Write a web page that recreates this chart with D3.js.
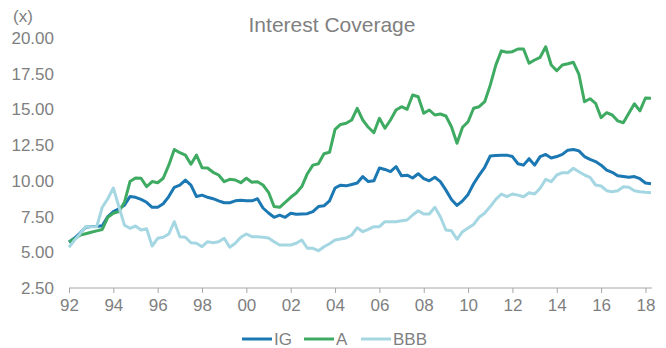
<!DOCTYPE html>
<html lang="en">
<head>
  <meta charset="UTF-8">
  <title>Interest Coverage</title>
  <style>
    html, body { margin: 0; background: #fff; }
    svg { display: block; font-family: "Liberation Sans", Arial, sans-serif; }
    .axis text { fill: #7f7f7f; font-size: 17px; }
  </style>
</head>
<body>
  <div id="chart"></div>
  <script src="https://cdnjs.cloudflare.com/ajax/libs/d3/7.8.5/d3.min.js"></script>
  <script>
    // quarterly, 1992 Q1 .. 2018 Q2
    const startYear = 1992
    const quarters = 106

    const ig = [
      5.7, 6.0, 6.35, 6.75,   6.8, 6.8, 6.85, 7.5,   7.85, 8.05, 8.3, 8.9,
      8.85, 8.7, 8.5, 8.15,   8.15, 8.4, 8.9, 9.55,  9.7, 10.05, 9.7, 8.9,
      9.0, 8.85, 8.75, 8.6,   8.47, 8.47, 8.6, 8.65, 8.6, 8.6, 8.75, 8.1,
      7.75, 7.45, 7.6, 7.45,  7.73, 7.66, 7.68, 7.7, 7.85, 8.2, 8.25, 8.6,
      9.5, 9.7, 9.65, 9.75,   9.85, 10.3, 9.95, 10.0, 10.9, 10.8, 10.65, 11.0,
      10.35, 10.4, 10.2, 10.5, 10.15, 10.0, 10.25, 9.95, 9.35, 8.7, 8.28, 8.6,
      9.05, 9.8, 10.4, 10.95, 11.74, 11.78, 11.8, 11.8, 11.7, 11.2, 11.1, 11.55,
      11.1, 11.7, 11.85, 11.6, 11.7, 11.85, 12.15, 12.2, 12.1, 11.7, 11.5, 11.35,
      11.1, 10.75, 10.6, 10.35, 10.3, 10.25, 10.3, 10.15, 9.85, 9.8
    ]
    const a = [
      5.74, 5.95, 6.2, 6.3,   6.4, 6.5, 6.6, 7.45,   7.73, 7.85, 8.5, 9.95,
      10.2, 10.18, 9.6, 9.95, 9.87, 10.18, 11.1, 12.2, 11.97, 11.8, 11.16, 11.8,
      10.92, 10.9, 10.6, 10.41, 9.94, 10.11, 10.06, 9.87, 10.18, 9.9, 9.94, 9.71,
      9.2, 8.2, 8.15, 8.5,    8.85, 9.15, 9.6, 10.5,  11.1, 11.2, 11.9, 12.0,
      13.6, 13.95, 14.03, 14.26, 15.08, 14.26, 13.75, 13.37, 14.38, 13.68, 14.26, 14.96,
      15.19, 15.01, 16.01, 15.89, 14.73, 14.96, 14.61, 14.68, 14.54, 13.79, 12.63, 13.75,
      14.14, 15.08, 15.19, 15.54, 16.7, 18.1, 19.1, 19.0, 19.04, 19.23, 19.23, 18.23,
      18.46, 18.65, 19.39, 18.11, 17.71, 18.11, 18.2, 18.3, 17.45, 15.54, 15.75, 15.43,
      14.42, 14.77, 14.61, 14.2, 14.07, 14.73, 15.4, 14.9, 15.8, 15.78
    ]
    const bbb = [
      5.35, 5.85, 6.3, 6.8,   6.79, 6.79, 8.15, 8.75, 9.5, 8.2, 6.9, 6.68,
      6.84, 6.56, 6.65, 5.44, 5.98, 6.05, 6.28, 7.14, 6.09, 6.05, 5.67, 5.63,
      5.39, 5.74, 5.67, 5.74, 5.98, 5.35, 5.63, 6.05, 6.28, 6.09, 6.09, 6.05,
      6.0, 5.74, 5.51, 5.51,  5.51, 5.63, 5.86, 5.28, 5.28, 5.11, 5.39, 5.6,
      5.86, 5.93, 6.0, 6.21,  6.72, 6.44, 6.6, 6.79,  6.79, 7.14, 7.14, 7.14,
      7.2, 7.26, 7.61, 7.91,  7.68, 7.68, 8.15, 7.49, 6.56, 6.51, 5.91, 6.44,
      6.7, 6.95, 7.45, 7.75,  8.2, 8.7, 9.08, 8.89,  9.08, 9.0, 8.89, 9.17,
      9.08, 9.48, 10.11, 9.94, 10.41, 10.57, 10.57, 10.88, 10.64, 10.41, 10.25, 9.71,
      9.64, 9.31, 9.24, 9.31, 9.59, 9.55, 9.31, 9.24, 9.2, 9.17
    ]
    const xTicks = d3.range(1992, 2019, 2)
    const yTicks = [2.5, 5, 7.5, 10, 12.5, 15, 17.5, 20]

    const series = [
      { name: 'IG', values: ig, color: '#1b78b3' },
      { name: 'A', values: a, color: '#3fab62' },
      { name: 'BBB', values: bbb, color: '#a5d7e3' }
    ]
    const dates = d3.range(quarters).map(i => startYear + i / 4)

    const width = 666, height = 348
    const svg = d3.select('#chart').append('svg')
      .attr('width', width).attr('height', height)

    const x = d3.scaleLinear().domain([1992, 2018.25]).range([69, 651])
    const y = d3.scaleLinear().domain([2.5, 20]).range([288, 38])

    // title + unit
    svg.append('text').attr('x', 332).attr('y', 32)
      .attr('text-anchor', 'middle').attr('fill', '#7f7f7f')
      .attr('font-size', 21).text('Interest Coverage')
    svg.append('text').attr('x', 13).attr('y', 22)
      .attr('fill', '#7f7f7f').attr('font-size', 17).text('(x)')

    // y axis: labels only
    const gy = svg.append('g').attr('class', 'axis')
      .attr('transform', 'translate(54,0)')
      .call(d3.axisLeft(y).tickValues(yTicks).tickSize(0).tickPadding(0)
        .tickFormat(d3.format('.2f')))
    gy.select('.domain').remove()

    // x axis
    const gx = svg.append('g').attr('class', 'axis')
      .attr('transform', 'translate(0,288)')
      .call(d3.axisBottom(x).tickValues(xTicks).tickSize(5).tickPadding(6)
        .tickFormat(d => String(d).slice(2)))
    gx.select('.domain').attr('d', 'M69,0H652').attr('stroke', '#a6a6a6')
    gx.selectAll('.tick line').attr('stroke', '#a6a6a6')

    // lines
    const line = d3.line().x((d, i) => x(dates[i])).y(d => y(d))
    svg.selectAll('.series')
      .data(series)
      .join('path')
      .attr('class', 'series')
      .attr('fill', 'none')
      .attr('stroke', d => d.color)
      .attr('stroke-width', 3)
      .attr('stroke-linejoin', 'round')
      .attr('d', d => line(d.values))

    // legend
    const legendX = [242, 304, 361]
    const lg = svg.selectAll('.legend')
      .data(series)
      .join('g')
      .attr('class', 'legend')
      .attr('transform', (d, i) => `translate(${legendX[i]},339)`)
    lg.append('line').attr('x1', 0).attr('x2', 30)
      .attr('stroke', d => d.color).attr('stroke-width', 3)
    lg.append('text').attr('x', 32).attr('dy', '0.35em')
      .attr('fill', '#7f7f7f').attr('font-size', 17)
      .text(d => d.name)
  </script>
</body>
</html>
